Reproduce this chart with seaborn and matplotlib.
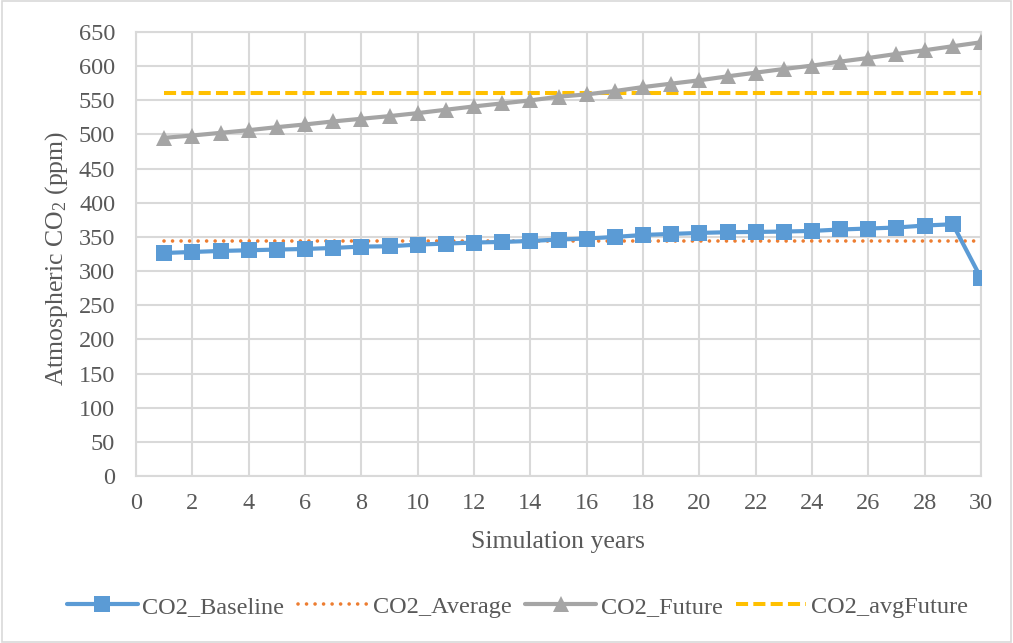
import numpy as np
import pandas as pd
import matplotlib
matplotlib.use("Agg")
import matplotlib.pyplot as plt
from matplotlib.patches import Rectangle
import seaborn as sns

# Simulation data (ppm)
years = list(range(1, 31))
co2_baseline = [326.5, 328.0, 329.5, 330.5, 331.5, 332.4, 333.9, 335.9, 336.3, 338.8,
                340.3, 341.8, 342.7, 344.1, 346.2, 347.7, 350.0, 352.9, 354.4, 355.9,
                356.9, 357.3, 357.9, 358.8, 360.9, 362.3, 363.8, 366.7, 368.6, 289.8]
co2_future = [495.1, 498.5, 502.4, 506.3, 510.7, 514.7, 519.1, 523.0, 526.9, 531.3,
              536.2, 541.1, 545.5, 549.9, 555.3, 558.7, 563.6, 569.4, 574.4, 579.3,
              585.1, 590.5, 595.9, 600.8, 606.7, 612.0, 617.9, 623.3, 629.2, 635.0]
co2_average = 344.7
co2_avg_future = 560.5

x_ticks = list(range(0, 31, 2))
y_ticks = list(range(0, 651, 50))

df = pd.DataFrame({
    "year": years,
    "CO2_Baseline": co2_baseline,
    "CO2_Average": [co2_average] * len(years),
    "CO2_Future": co2_future,
    "CO2_avgFuture": [co2_avg_future] * len(years),
})

sns.set_theme(style="whitegrid")
plt.rcParams["font.family"] = ["Liberation Serif", "DejaVu Serif"]
plt.rcParams["mathtext.fontset"] = "custom"
plt.rcParams["mathtext.rm"] = "Liberation Serif"
plt.rcParams["mathtext.it"] = "Liberation Serif:italic"

text_color = "#595959"
grid_color = "#d9d9d9"

fig = plt.figure(figsize=(10.13, 6.43), dpi=100)
ax = fig.add_axes([0.1343, 0.2597, 0.8341, 0.6905])

sns.lineplot(data=df, x="year", y="CO2_Baseline", ax=ax, color="#5B9BD5",
             linewidth=3.0, marker="s", markersize=11, markeredgewidth=0,
             label="CO2_Baseline", zorder=4)
sns.lineplot(data=df, x="year", y="CO2_Average", ax=ax, color="#ED7D31",
             linewidth=2.6, label="CO2_Average", zorder=3)
sns.lineplot(data=df, x="year", y="CO2_Future", ax=ax, color="#A5A5A5",
             linewidth=3.0, marker="^", markersize=11.5, markeredgewidth=0,
             label="CO2_Future", zorder=4)
sns.lineplot(data=df, x="year", y="CO2_avgFuture", ax=ax, color="#FFC000",
             linewidth=2.9, label="CO2_avgFuture", zorder=3)

lines = ax.get_lines()
lines[1].set_linestyle((0, (0.01, 2.35)))
lines[1].set_dash_capstyle("round")
lines[3].set_linestyle((0, (3.0, 1.3)))

ax.set_xlim(0, 30)
ax.set_ylim(0, 650)
ax.set_xticks(x_ticks)
ax.set_yticks(y_ticks)
ax.grid(True, color=grid_color, linewidth=1.5)
for s in ax.spines.values():
    s.set_color(grid_color)
    s.set_linewidth(1.5)
ax.tick_params(axis="both", length=0, labelsize=17.5, labelcolor=text_color)
ax.tick_params(axis="y", pad=15)
ax.tick_params(axis="x", pad=12)

ax.set_xlabel("Simulation years", fontsize=18.5, color=text_color)
ax.set_ylabel("Atmospheric CO$_2$ (ppm)", fontsize=18.5, color=text_color)
ax.xaxis.set_label_coords(0.499, -0.124)
ax.yaxis.set_label_coords(-0.078, 0.49)

handles, labels = ax.get_legend_handles_labels()
ax.legend(handles, labels, loc="center", bbox_to_anchor=(0.511, 0.056),
          bbox_transform=fig.transFigure, ncol=4, frameon=False, fontsize=17.5,
          handlelength=2.9, columnspacing=0.55, handletextpad=0.2,
          labelcolor=text_color)

fig.patches.append(Rectangle((0.002, 0.002), 0.996, 0.996, transform=fig.transFigure,
                             fill=False, edgecolor=grid_color, linewidth=1.2))

fig.savefig("out.png", dpi=100)
